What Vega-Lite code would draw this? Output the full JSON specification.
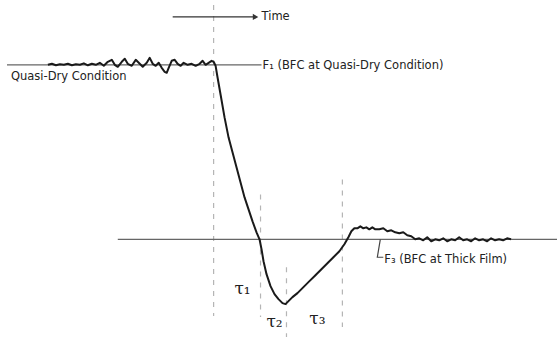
{
  "$schema": "https://vega.github.io/schema/vega-lite/v6.json",
  "width": 558,
  "height": 338,
  "autosize": {"type": "fit", "contains": "padding"},
  "padding": 0,
  "background": "white",
  "config": {"view": {"stroke": null}},
  "datasets": {
    "curve": [
      {"t":48,"f":273},{"t":52,"f":274},{"t":56,"f":272.5},{"t":60,"f":273.5},{"t":64,"f":273},{"t":68,"f":274},{"t":72,"f":272.5},{"t":76,"f":273.5},{"t":80,"f":273},{"t":84,"f":274.5},{"t":88,"f":272.5},{"t":92,"f":274},{"t":96,"f":273},{"t":100,"f":275},{"t":104,"f":272},{"t":108,"f":276},{"t":112,"f":278},{"t":115,"f":273},{"t":118,"f":271},{"t":122,"f":276},{"t":125,"f":279},{"t":128,"f":274},{"t":132,"f":272},{"t":136,"f":278},{"t":140,"f":274},{"t":143,"f":271},{"t":147,"f":275},{"t":150,"f":280},{"t":153,"f":274},{"t":156,"f":272},{"t":159,"f":275},{"t":162,"f":270},{"t":165,"f":266},{"t":167,"f":265},{"t":169,"f":270},{"t":172,"f":277},{"t":175,"f":278},{"t":178,"f":274},{"t":181,"f":272},{"t":184,"f":275},{"t":188,"f":273},{"t":192,"f":274},{"t":196,"f":272},{"t":200,"f":274},{"t":203,"f":277},{"t":206,"f":273},{"t":209,"f":275},{"t":212,"f":277},{"t":214,"f":276},{"t":216,"f":272},{"t":218,"f":260},{"t":221,"f":243},{"t":225,"f":220},{"t":229,"f":200},{"t":233,"f":185},{"t":237,"f":170},{"t":241,"f":155},{"t":245,"f":140},{"t":249,"f":128},{"t":253,"f":116},{"t":257,"f":105},{"t":260,"f":98},{"t":262,"f":88},{"t":264,"f":76},{"t":267,"f":63},{"t":271,"f":51},{"t":275,"f":43},{"t":279,"f":38},{"t":283,"f":34},{"t":286,"f":33},{"t":289,"f":36},{"t":293,"f":40},{"t":298,"f":44},{"t":304,"f":50},{"t":310,"f":56},{"t":316,"f":62},{"t":322,"f":68},{"t":328,"f":74},{"t":334,"f":80},{"t":340,"f":86},{"t":345,"f":93},{"t":349,"f":100},{"t":352,"f":106},{"t":355,"f":109},{"t":358,"f":109},{"t":361,"f":111},{"t":364,"f":109},{"t":367,"f":110},{"t":370,"f":108},{"t":373,"f":110},{"t":376,"f":108},{"t":380,"f":108},{"t":384,"f":109},{"t":388,"f":106},{"t":392,"f":107},{"t":396,"f":105},{"t":400,"f":104},{"t":404,"f":105},{"t":408,"f":102},{"t":412,"f":101},{"t":416,"f":98},{"t":420,"f":99},{"t":424,"f":97},{"t":428,"f":100},{"t":432,"f":96},{"t":436,"f":98},{"t":440,"f":97},{"t":444,"f":99},{"t":448,"f":96},{"t":452,"f":98},{"t":456,"f":97},{"t":460,"f":100},{"t":464,"f":97},{"t":468,"f":98},{"t":472,"f":96},{"t":476,"f":99},{"t":480,"f":97},{"t":484,"f":98},{"t":488,"f":96},{"t":492,"f":99},{"t":496,"f":97},{"t":500,"f":98},{"t":504,"f":97},{"t":508,"f":99},{"t":512,"f":98}
    ],
    "levels": [
      {"name":"F1","t":7,"t2":262,"f":273},
      {"name":"F3","t":118,"t2":558,"f":98}
    ],
    "markers": [
      {"t":214,"f":333,"f2":21},
      {"t":261,"f":143,"f2":20},
      {"t":287,"f":70,"f2":0},
      {"t":343,"f":158,"f2":10}
    ],
    "arrow": [
      {"t":173,"t2":254,"f":321}
    ],
    "arrowhead": [
      {"t":256,"f":321}
    ],
    "leader": [
      {"order":1,"t":381,"f":98},
      {"order":2,"t":378,"f":80},
      {"order":3,"t":384,"f":80}
    ],
    "labels": [
      {"label":"Time","t":262,"f":321},
      {"label":"F₁ (BFC at Quasi-Dry Condition)","t":263,"f":272},
      {"label":"Quasi-Dry Condition","t":11,"f":261},
      {"label":"F₃ (BFC at Thick Film)","t":385,"f":77}
    ],
    "taus": [
      {"label":"τ₁","t":243,"f":48},
      {"label":"τ₂","t":275,"f":15},
      {"label":"τ₃","t":318,"f":18}
    ]
  },
  "layer": [
    {
      "data": {"name": "markers"},
      "mark": {"type": "rule", "color": "#b5b5b5", "strokeWidth": 1.2, "strokeDash": [5, 6]},
      "encoding": {
        "x": {"field": "t", "type": "quantitative", "scale": {"domain": [0, 558], "nice": false, "zero": false}, "axis": null},
        "y": {"field": "f", "type": "quantitative", "scale": {"domain": [0, 338], "nice": false, "zero": false}, "axis": null},
        "y2": {"field": "f2"}
      }
    },
    {
      "data": {"name": "levels"},
      "mark": {"type": "rule", "color": "#666666", "strokeWidth": 1.3},
      "encoding": {
        "x": {"field": "t", "type": "quantitative", "scale": {"domain": [0, 558], "nice": false, "zero": false}, "axis": null},
        "x2": {"field": "t2"},
        "y": {"field": "f", "type": "quantitative", "scale": {"domain": [0, 338], "nice": false, "zero": false}, "axis": null}
      }
    },
    {
      "data": {"name": "arrow"},
      "mark": {"type": "rule", "color": "#333333", "strokeWidth": 1.2},
      "encoding": {
        "x": {"field": "t", "type": "quantitative", "axis": null},
        "x2": {"field": "t2"},
        "y": {"field": "f", "type": "quantitative", "axis": null}
      }
    },
    {
      "data": {"name": "arrowhead"},
      "mark": {"type": "point", "shape": "triangle-right", "size": 40, "filled": true, "color": "#333333", "opacity": 1},
      "encoding": {
        "x": {"field": "t", "type": "quantitative", "axis": null},
        "y": {"field": "f", "type": "quantitative", "axis": null}
      }
    },
    {
      "data": {"name": "leader"},
      "mark": {"type": "line", "color": "#444444", "strokeWidth": 1.2},
      "encoding": {
        "x": {"field": "t", "type": "quantitative", "axis": null},
        "y": {"field": "f", "type": "quantitative", "axis": null},
        "order": {"field": "order"}
      }
    },
    {
      "data": {"name": "curve"},
      "mark": {"type": "line", "color": "#1a1a1a", "strokeWidth": 2, "strokeJoin": "round"},
      "encoding": {
        "x": {"field": "t", "type": "quantitative", "axis": null},
        "y": {"field": "f", "type": "quantitative", "axis": null}
      }
    },
    {
      "data": {"name": "labels"},
      "mark": {"type": "text", "align": "left", "baseline": "middle", "font": "DejaVu Sans", "fontSize": 11.5, "color": "#222222"},
      "encoding": {
        "x": {"field": "t", "type": "quantitative", "axis": null},
        "y": {"field": "f", "type": "quantitative", "axis": null},
        "text": {"field": "label"}
      }
    },
    {
      "data": {"name": "taus"},
      "mark": {"type": "text", "align": "center", "baseline": "middle", "font": "DejaVu Serif", "fontSize": 17, "color": "#222222"},
      "encoding": {
        "x": {"field": "t", "type": "quantitative", "axis": null},
        "y": {"field": "f", "type": "quantitative", "axis": null},
        "text": {"field": "label"}
      }
    }
  ]
}
